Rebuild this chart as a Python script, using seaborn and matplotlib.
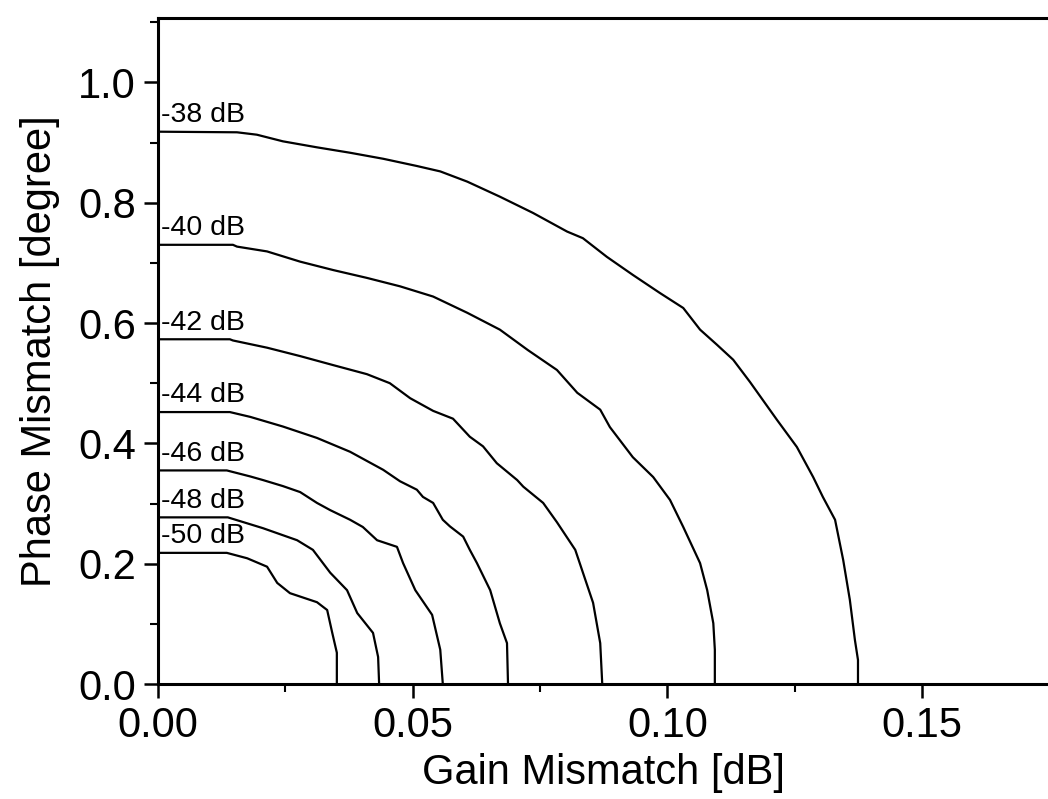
import matplotlib
matplotlib.use("Agg")
import matplotlib.pyplot as plt
import seaborn as sns
import pandas as pd
from matplotlib.ticker import MultipleLocator, FormatStrFormatter

sns.set_theme(style="ticks")
plt.rcParams["font.family"] = ["Liberation Sans", "DejaVu Sans"]

# contour levels
levels = ["-38 dB", "-40 dB", "-42 dB", "-44 dB", "-46 dB", "-48 dB", "-50 dB"]

x38 = [0, 0.0155, 0.0194, 0.0245, 0.0312, 0.0377, 0.0442, 0.0508, 0.0554, 0.0607, 0.0671,
       0.0736, 0.0803, 0.0834, 0.0881, 0.0932, 0.0985, 0.1031, 0.1064, 0.1097, 0.1129, 0.1162,
       0.1215, 0.1254, 0.1286, 0.1305, 0.1329, 0.1345, 0.1358, 0.1368, 0.1374, 0.1374]
y38 = [0.918, 0.917, 0.913, 0.902, 0.892, 0.883, 0.873, 0.861, 0.852, 0.835, 0.810,
       0.783, 0.752, 0.741, 0.710, 0.680, 0.650, 0.625, 0.589, 0.564, 0.539, 0.502,
       0.439, 0.394, 0.344, 0.311, 0.273, 0.206, 0.140, 0.073, 0.040, 0.0]

x40 = [0, 0.0147, 0.0155, 0.0214, 0.0279, 0.0344, 0.0410, 0.0475, 0.0540, 0.0607, 0.0671,
       0.0726, 0.0783, 0.0823, 0.0868, 0.0887, 0.0932, 0.0972, 0.1005, 0.1031, 0.1064,
       0.1078, 0.1090, 0.1093, 0.1093]
y40 = [0.730, 0.730, 0.727, 0.719, 0.702, 0.688, 0.675, 0.661, 0.644, 0.617, 0.589,
       0.555, 0.522, 0.484, 0.456, 0.427, 0.377, 0.344, 0.306, 0.261, 0.201,
       0.156, 0.101, 0.057, 0.0]

x42 = [0, 0.0141, 0.0147, 0.0214, 0.0279, 0.0344, 0.0410, 0.0455, 0.0495, 0.0540, 0.0579,
       0.0612, 0.0638, 0.0665, 0.0705, 0.0717, 0.0756, 0.0783, 0.0819, 0.0854, 0.0868, 0.0872]
y42 = [0.573, 0.573, 0.571, 0.559, 0.545, 0.530, 0.515, 0.500, 0.475, 0.454, 0.441,
       0.411, 0.395, 0.367, 0.339, 0.328, 0.301, 0.269, 0.223, 0.135, 0.068, 0.0]

x44 = [0, 0.0141, 0.0181, 0.0245, 0.0312, 0.0377, 0.0442, 0.0475, 0.0508, 0.0520, 0.0540,
       0.0559, 0.0573, 0.0599, 0.0612, 0.0626, 0.0652, 0.0671, 0.0685, 0.0687]
y44 = [0.452, 0.452, 0.444, 0.428, 0.409, 0.386, 0.356, 0.337, 0.323, 0.311, 0.301,
       0.273, 0.262, 0.245, 0.223, 0.201, 0.156, 0.101, 0.068, 0.0]

x46 = [0, 0.0135, 0.0181, 0.0206, 0.0245, 0.0279, 0.0312, 0.0338, 0.0377, 0.0402, 0.0430,
       0.0469, 0.0481, 0.0505, 0.0538, 0.0554, 0.0559]
y46 = [0.355, 0.355, 0.345, 0.339, 0.329, 0.319, 0.301, 0.289, 0.273, 0.261, 0.239,
       0.228, 0.201, 0.156, 0.115, 0.057, 0.0]

x48 = [0, 0.0137, 0.0206, 0.0273, 0.0304, 0.0338, 0.0371, 0.0391, 0.0422, 0.0432, 0.0434]
y48 = [0.277, 0.277, 0.259, 0.239, 0.223, 0.185, 0.156, 0.118, 0.085, 0.045, 0.0]

x50 = [0, 0.0135, 0.0175, 0.0214, 0.0234, 0.0259, 0.0312, 0.0332, 0.0342, 0.0351, 0.0351]
y50 = [0.218, 0.218, 0.209, 0.195, 0.168, 0.151, 0.136, 0.123, 0.085, 0.052, 0.0]

xs = [x38, x40, x42, x44, x46, x48, x50]
ys = [y38, y40, y42, y44, y46, y48, y50]

rows = []
for lev, xx, yy in zip(levels, xs, ys):
    for i, (a, b) in enumerate(zip(xx, yy)):
        rows.append({"level": lev, "order": i, "gain": a, "phase": b})
df = pd.DataFrame(rows)

fig = plt.figure(figsize=(10.48, 7.99), dpi=100)
ax = fig.add_axes([0.1508, 0.1439, 0.8492, 0.8336])

sns.lineplot(data=df, x="gain", y="phase", units="level", estimator=None, sort=False,
             color="black", linewidth=1.6, ax=ax, legend=False)

for lev, yy in zip(levels, ys):
    ax.text(0.0006, yy[0] + 0.006, lev, fontsize=20.5, va="bottom", ha="left", color="black")

ax.set_xlim(0, 0.1747)
ax.set_ylim(0, 1.107)
ax.xaxis.set_major_locator(MultipleLocator(0.05))
ax.xaxis.set_minor_locator(MultipleLocator(0.025))
ax.yaxis.set_major_locator(MultipleLocator(0.2))
ax.yaxis.set_minor_locator(MultipleLocator(0.1))
ax.xaxis.set_major_formatter(FormatStrFormatter("%.2f"))
ax.yaxis.set_major_formatter(FormatStrFormatter("%.1f"))
ax.tick_params(which="major", direction="out", length=10, width=1.8, labelsize=30,
               color="black", labelcolor="black", pad=6)
ax.tick_params(which="minor", direction="out", length=6, width=1.5, color="black")
ax.tick_params(top=False, right=False, which="both")

for side in ["left", "bottom", "top"]:
    ax.spines[side].set_linewidth(2.2)
    ax.spines[side].set_color("black")
ax.spines["right"].set_visible(False)

ax.set_xlabel("Gain Mismatch [dB]", fontsize=30, color="black", labelpad=5)
ax.set_ylabel("Phase Mismatch [degree]", fontsize=30, color="black", labelpad=13)

fig.savefig("out.png", dpi=100, facecolor="white")
